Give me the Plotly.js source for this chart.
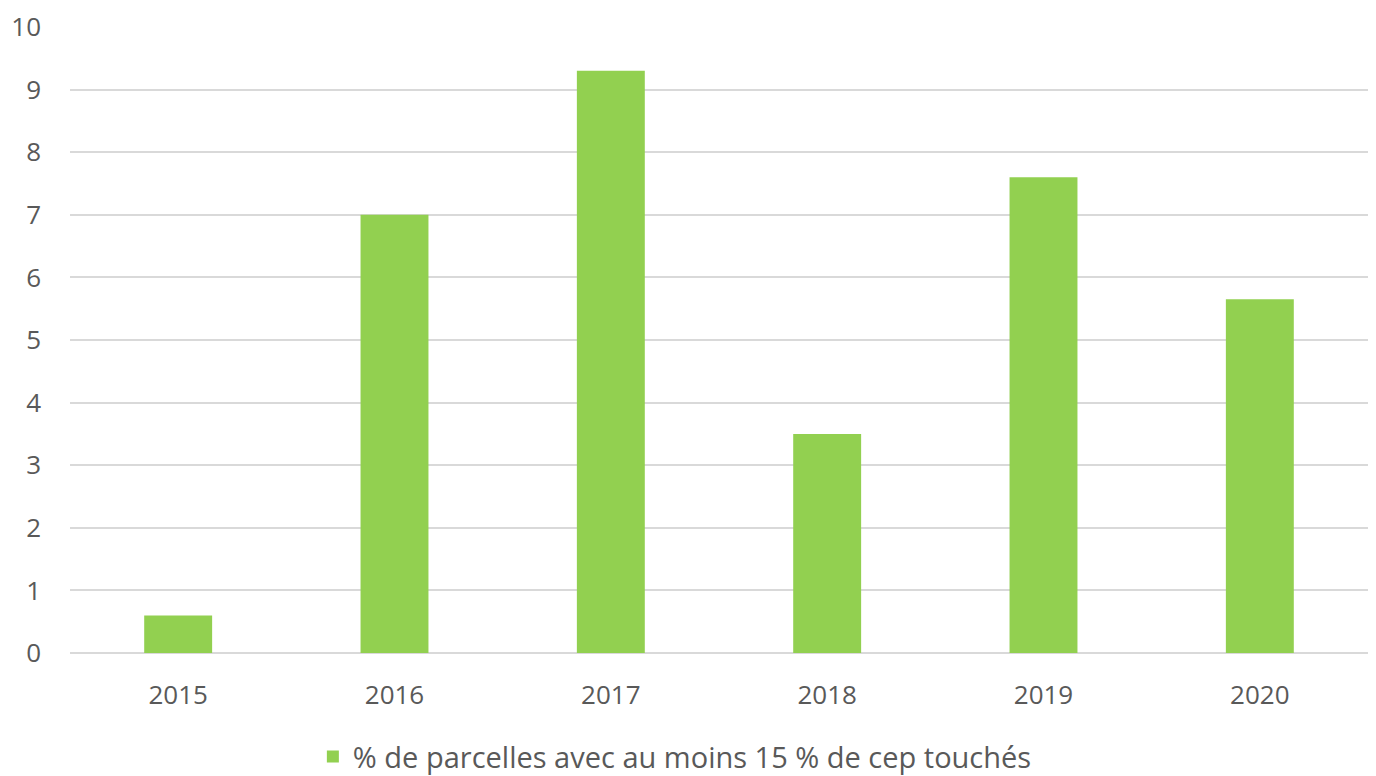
<!DOCTYPE html>
<html>
<head>
<meta charset="utf-8">
<script src="https://cdn.plot.ly/plotly-3.0.1.min.js"></script>
<style>html,body{margin:0;padding:0;background:#fff;}#chart{width:1376px;height:776px;}</style>
</head>
<body>
<div id="chart"></div>
<script>
const years = ["2015", "2016", "2017", "2018", "2019", "2020"];
const values = [0.6, 7.0, 9.3, 3.5, 7.6, 5.65];
const seriesName = "% de parcelles avec au moins 15 % de cep touchés";
const yTicks = [0, 1, 2, 3, 4, 5, 6, 7, 8, 9, 10];

const font = "'Open Sans', Lato, 'DejaVu Sans', sans-serif";
Plotly.newPlot("chart", [{
  type: "bar",
  x: years,
  y: values,
  name: seriesName,
  marker: {color: "#92D050"},
  showlegend: true
}], {
  width: 1376, height: 776,
  margin: {l: 70, r: 8, t: 27, b: 123, autoexpand: false},
  paper_bgcolor: "#fff", plot_bgcolor: "#fff",
  bargap: 0.686,
  font: {family: font, color: "#595959", size: 26},
  xaxis: {
    type: "category", showgrid: false, zeroline: false, showline: false,
    ticks: "", tickfont: {size: 26, color: "#595959"}, ticklabelstandoff: 24
  },
  yaxis: {
    range: [0, 10], tickvals: yTicks, ticktext: yTicks.map(String),
    showgrid: true, gridcolor: "#D9D9D9", gridwidth: 2,
    zeroline: true, zerolinecolor: "#D9D9D9", zerolinewidth: 2,
    showline: false, ticks: "", tickfont: {size: 26, color: "#595959"},
    ticklabelstandoff: 28
  },
  showlegend: true,
  legend: {
    orientation: "h", x: 0.466, xanchor: "center",
    yref: "container", y: 0.025, yanchor: "middle",
    font: {size: 29, color: "#595959"}, itemwidth: 30
  }
}, {displayModeBar: false, staticPlot: true});
</script>
</body>
</html>
